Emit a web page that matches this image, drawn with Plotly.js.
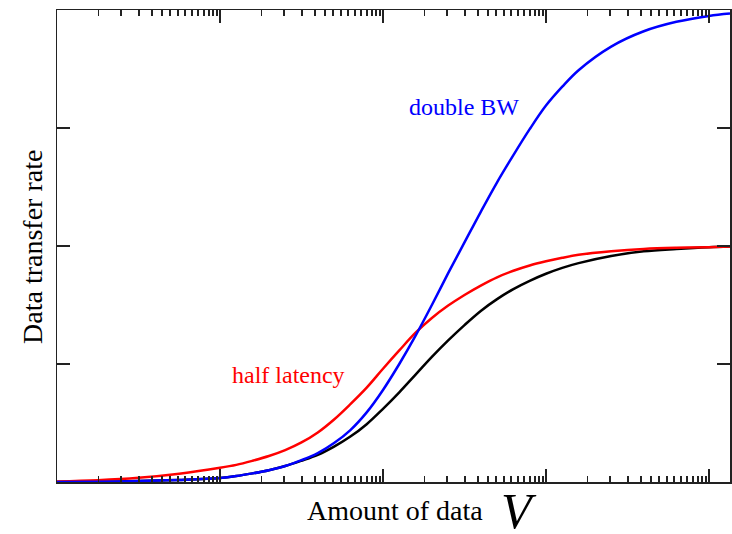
<!DOCTYPE html>
<html>
<head>
<meta charset="utf-8">
<script src="https://cdn.plot.ly/plotly-3.0.1.min.js"></script>
<style>html,body{margin:0;padding:0;background:#fff;}</style>
</head>
<body>
<div id="chart" style="width:732px;height:534px;"></div>
<script>
// Amount of data V (arbitrary units, log scale): exponents of 10
const logV = [-2, -1.75, -1.5, -1.25, -1, -0.9, -0.8, -0.7, -0.6, -0.5, -0.4, -0.3, -0.2, -0.1, 0, 0.1, 0.2, 0.3, 0.4, 0.5, 0.6, 0.7, 0.8, 0.9, 1.0, 1.1, 1.2, 1.4, 1.6, 1.8, 2.0, 2.129];
const V = logV.map(v => Math.pow(10, v));

// Data transfer rate
const baseRate    = [0.00, 0.003, 0.008, 0.018, 0.034, 0.05, 0.073, 0.10, 0.135, 0.18, 0.23, 0.30, 0.385, 0.49, 0.62, 0.76, 0.91, 1.06, 1.20, 1.33, 1.45, 1.55, 1.635, 1.705, 1.765, 1.815, 1.855, 1.915, 1.955, 1.975, 1.99, 1.995];
const halfLatency = [0.005, 0.015, 0.035, 0.07, 0.12, 0.145, 0.18, 0.22, 0.27, 0.335, 0.42, 0.53, 0.66, 0.80, 0.96, 1.115, 1.265, 1.39, 1.495, 1.585, 1.665, 1.735, 1.79, 1.835, 1.87, 1.90, 1.925, 1.955, 1.975, 1.985, 1.99, 1.995];
const doubleBW    = [0.00, 0.003, 0.008, 0.018, 0.034, 0.05, 0.073, 0.10, 0.135, 0.185, 0.245, 0.33, 0.44, 0.59, 0.78, 1.00, 1.24, 1.50, 1.77, 2.03, 2.29, 2.54, 2.77, 2.99, 3.19, 3.35, 3.49, 3.69, 3.82, 3.90, 3.95, 3.97];

// Axis ticks
const majorTicksX = [0.01, 0.1, 1, 10, 100];
const minorFactors = [1.79, 2.47, 3.18, 3.83, 4.41, 4.93, 5.52, 6.10, 6.73, 7.33, 7.98, 8.57, 9.06, 9.59];
const yTicks = [0, 1, 2, 3, 4];

const minorTicksX = [];
majorTicksX.slice(0, 4).forEach(d => minorFactors.forEach(f => minorTicksX.push(d * f)));

const lineW = 2.5;
const traces = [
  {x: V, y: baseRate, mode: 'lines', line: {color: '#000000', width: lineW, shape: 'spline', smoothing: 1}, name: 'base'},
  {x: V, y: halfLatency, mode: 'lines', line: {color: '#ff0000', width: lineW, shape: 'spline', smoothing: 1}, name: 'half latency'},
  {x: V, y: doubleBW, mode: 'lines', line: {color: '#0000ff', width: lineW, shape: 'spline', smoothing: 1}, name: 'double BW'}
];

const serif = 'Liberation Serif, Times New Roman, serif';
const layout = {
  width: 732, height: 534,
  margin: {l: 57, r: 2, t: 10, b: 52},
  paper_bgcolor: '#ffffff', plot_bgcolor: '#ffffff',
  showlegend: false,
  font: {family: serif, color: '#000'},
  xaxis: {
    type: 'log', range: [-2, 2.129],
    showgrid: false, zeroline: false,
    showline: true, linecolor: '#222', linewidth: 1.5, mirror: 'ticks',
    ticks: 'inside', ticklen: 13, tickwidth: 1.3, tickcolor: '#222',
    tickmode: 'array', tickvals: majorTicksX, showticklabels: false,
    minor: {tickmode: 'array', tickvals: minorTicksX, ticks: 'inside', ticklen: 6, tickwidth: 1.3, tickcolor: '#222', showgrid: false}
  },
  yaxis: {
    range: [0, 4],
    showgrid: false, zeroline: false,
    showline: true, linecolor: '#222', linewidth: 1.5, mirror: 'ticks',
    ticks: 'inside', ticklen: 13, tickwidth: 1.3, tickcolor: '#222',
    tickmode: 'array', tickvals: yTicks, showticklabels: false
  },
  annotations: [
    {xref: 'paper', yref: 'paper', x: 0.52, y: 0.794, xanchor: 'left', yanchor: 'middle', showarrow: false,
     text: 'double BW', font: {family: serif, size: 24, color: '#0000ff'}},
    {xref: 'paper', yref: 'paper', x: 0.257, y: 0.2267, xanchor: 'left', yanchor: 'middle', showarrow: false,
     text: 'half latency', font: {family: serif, size: 24, color: '#ff0000'}},
    {xref: 'paper', yref: 'paper', x: 0.502, y: -0.0614, xanchor: 'center', yanchor: 'middle', showarrow: false,
     text: 'Amount of data', font: {family: serif, size: 28, color: '#000'}},
    {xref: 'paper', yref: 'paper', x: 0.6865, y: -0.0614, xanchor: 'center', yanchor: 'middle', showarrow: false,
     height: 44, valign: 'middle',
     text: '<i>V</i>', font: {family: serif, size: 50, color: '#000'}},
    {xref: 'paper', yref: 'paper', x: -0.0357, y: 0.498, xanchor: 'center', yanchor: 'middle', showarrow: false,
     textangle: -90, text: 'Data transfer rate', font: {family: serif, size: 28, color: '#000'}}
  ]
};

Plotly.newPlot('chart', traces, layout, {staticPlot: true, displayModeBar: false});
</script>
</body>
</html>
